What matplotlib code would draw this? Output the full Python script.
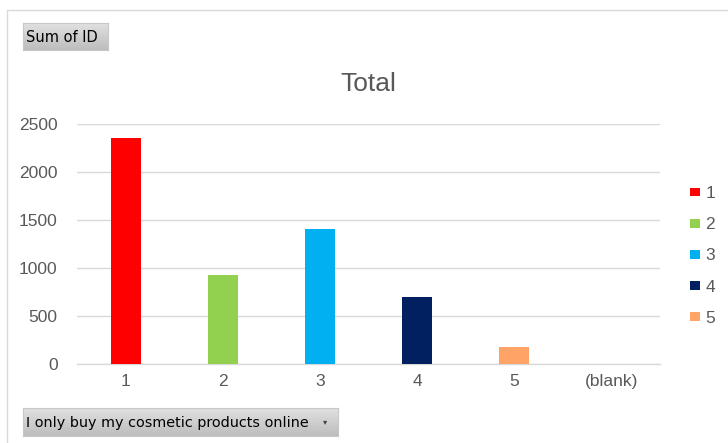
import numpy as np
import matplotlib.pyplot as plt
from matplotlib.patches import Patch, Rectangle

categories = ['1', '2', '3', '4', '5', '(blank)']
values = [2350, 928, 1405, 693, 182, 0]
colors = ['#FF0000', '#92D050', '#00B0F0', '#002060', '#FFA366', '#FFFFFF']
legend_labels = ['1', '2', '3', '4', '5']
yticks = [0, 500, 1000, 1500, 2000, 2500]

W, H = 728, 443
plt.rcParams['font.family'] = ['Liberation Sans', 'DejaVu Sans']
fig = plt.figure(figsize=(W / 100, H / 100), dpi=100)
fig.patch.set_facecolor('white')

# chart area border
fig.patches.append(Rectangle((7 / W, -0.1), 1.2, 1 - 10 / H + 0.1,
                             transform=fig.transFigure, fill=False,
                             edgecolor='#d9d9d9', lw=1.0))

ax = fig.add_axes([77 / W, 1 - 364 / H, (660 - 77) / W, (364 - 124) / H])
x = np.arange(len(categories))
ax.bar(x, values, width=0.31, color=colors, zorder=3)
ax.set_xlim(-0.5, len(categories) - 0.5)
ax.set_ylim(0, 2500)
ax.set_yticks(yticks)
ax.set_xticks(x)
ax.set_xticklabels(categories)
ax.grid(axis='y', color='#d9d9d9', lw=1.0, zorder=0)
ax.axhline(0, color='#d9d9d9', lw=1.0, zorder=1, clip_on=False)
for s in ax.spines.values():
    s.set_visible(False)
ax.tick_params(length=0, labelsize=12.5, labelcolor='#595959')
ax.tick_params(axis='y', pad=14)
ax.tick_params(axis='x', pad=7)
ax.set_title('Total', fontsize=19, color='#595959', pad=24)

handles = [Patch(facecolor=c, edgecolor='none') for c in colors[:5]]
fig.legend(handles, legend_labels, loc='center left',
           bbox_to_anchor=(674 / W, 1 - 256 / H), frameon=False,
           fontsize=12.5, labelcolor='#595959', handlelength=0.6,
           handleheight=0.4, handletextpad=0.3, labelspacing=0.93)


def button(x0, y0, x1, y1, label, size):
    bax = fig.add_axes([x0 / W, 1 - y1 / H, (x1 - x0) / W, (y1 - y0) / H])
    grad = np.linspace(0.88, 0.74, 50).reshape(-1, 1)
    bax.imshow(grad, cmap='gray', vmin=0, vmax=1, aspect='auto',
               extent=[0, 1, 0, 1])
    bax.set_xticks([])
    bax.set_yticks([])
    for s in bax.spines.values():
        s.set_color('#c8c8c8')
    bax.text(3 / (x1 - x0), 0.48, label, transform=bax.transAxes, ha='left',
             va='center', fontsize=size, color='black', family='DejaVu Sans')
    return bax


button(23, 23, 108, 50, 'Sum of ID', 10.5)
b = button(23, 408, 338, 436, 'I only buy my cosmetic products online', 10.4)
b.text(0.96, 0.5, '▾', transform=b.transAxes, ha='center', va='center',
       fontsize=6, color='#404040', family='DejaVu Sans')

fig.savefig('out.png', dpi=100)
